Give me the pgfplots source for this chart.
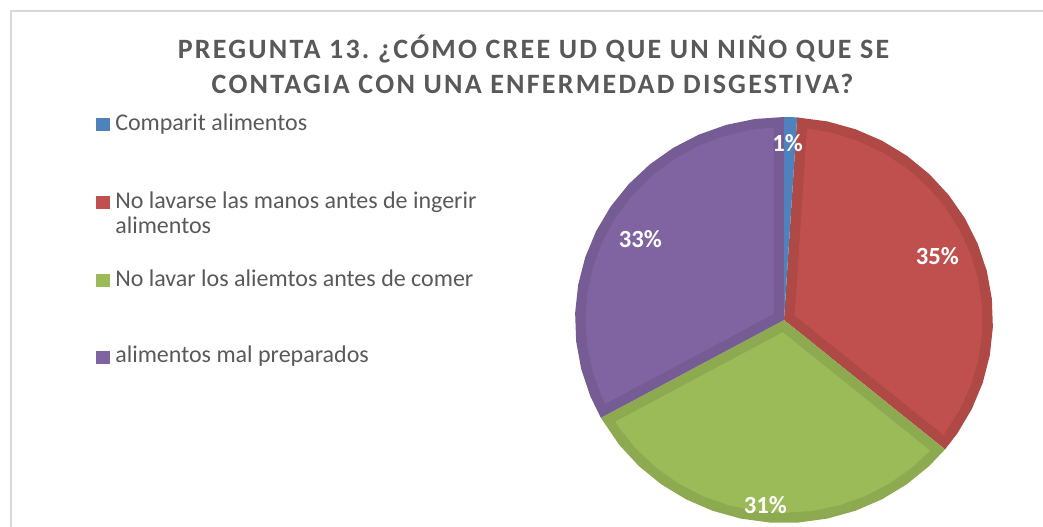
\documentclass[border=0pt]{standalone}
\usepackage{fontspec}
\setmainfont{Carlito}
\usepackage{pgfplots}
\pgfplotsset{compat=1.18}
\definecolor{ctitle}{HTML}{595959}
\definecolor{cframe}{HTML}{D9D9D9}
\definecolor{cblue}{HTML}{4F81BD}
\definecolor{cred}{HTML}{C0504D}
\definecolor{credd}{HTML}{AF4946}
\definecolor{cgreen}{HTML}{9BBB59}
\definecolor{cgreend}{HTML}{8DAA50}
\definecolor{cpurple}{HTML}{8064A2}
\definecolor{cpurpled}{HTML}{765C95}
% Data: Comparit alimentos 1, No lavarse las manos 35, No lavar los aliemtos 31, alimentos mal preparados 33 (percent)
% Wedges start at 90 deg and run clockwise: 90 -> 86.4 -> -39.6 -> -151.2 -> -270
\begin{document}
\begin{tikzpicture}
\useasboundingbox (0,0) rectangle (782.25pt,-395.25pt);
\begin{scope}[x=0.75pt,y=-0.75pt]
% chart frame (top and left edges visible)
\draw[cframe, line width=1.5pt] (10.5,11) -- (10.5,530);
\draw[cframe, line width=1.2pt] (10,11) -- (1043,11);
% title
\node[anchor=base, font=\fontsize{21pt}{24pt}\selectfont\bfseries\addfontfeature{LetterSpace=8}, text=ctitle, inner sep=0pt] at (533.5,58.3) {PREGUNTA 13.\kern-2pt{} ¿CÓMO CREE UD QUE UN NIÑO QUE SE};
\node[anchor=base, font=\fontsize{21pt}{24pt}\selectfont\bfseries\addfontfeature{LetterSpace=8}, text=ctitle, inner sep=0pt] at (532.5,94) {CONTAGIA CON UNA ENFERMEDAD DISGESTIVA?};
% legend
\fill[cblue] (96,118) rectangle (110,131);
\fill[cred] (96,196) rectangle (110,209);
\fill[cgreen] (96,274) rectangle (110,287);
\fill[cpurple] (96,351) rectangle (110,364);
\begin{scope}[every node/.style={anchor=base west, inner sep=0pt, text=ctitle, font=\fontsize{18pt}{21pt}\selectfont}]
\node at (115,131) {Comparit alimentos};
\node at (115,209) {No lavarse las manos antes de ingerir};
\node at (115,234) {alimentos};
\node at (115,287) {No lavar los aliemtos antes de comer};
\node at (115,363) {alimentos mal preparados};
\end{scope}
\end{scope}
% pie
\begin{axis}[at={(588pt,-240pt)}, anchor=center, scale only axis,
  width=313.5pt, height=304.5pt,
  xmin=-1, xmax=1, ymin=-1, ymax=1,
  hide axis, clip=false]
% red slice
\addplot[draw=none, fill=credd, data cs=polar] coordinates {(0,0) (86.4,1) (78,1) (70,1) (62,1) (54,1) (46,1) (38,1) (30,1) (22,1) (14,1) (6,1) (-2,1) (-10,1) (-18,1) (-26,1) (-34,1) (-39.6,1)};
\addplot[draw=none, fill=cred, data cs=polar] coordinates {(23.4,0.056) (83.38,0.95) (76,0.95) (68,0.95) (60,0.95) (52,0.95) (44,0.95) (36,0.95) (28,0.95) (20,0.95) (12,0.95) (4,0.95) (-4,0.95) (-12,0.95) (-20,0.95) (-28,0.95) (-36.58,0.95)};
% green slice
\addplot[draw=none, fill=cgreend, data cs=polar] coordinates {(0,0) (-39.6,1) (-46,1) (-54,1) (-62,1) (-70,1) (-78,1) (-86,1) (-94,1) (-102,1) (-110,1) (-118,1) (-126,1) (-134,1) (-142,1) (-151.2,1)};
\addplot[draw=none, fill=cgreen, data cs=polar] coordinates {(-95.4,0.0605) (-42.62,0.95) (-50,0.95) (-58,0.95) (-66,0.95) (-74,0.95) (-82,0.95) (-90,0.95) (-98,0.95) (-106,0.95) (-114,0.95) (-122,0.95) (-130,0.95) (-138,0.95) (-146,0.95) (-148.18,0.95)};
% purple slice
\addplot[draw=none, fill=cpurpled, data cs=polar] coordinates {(0,0) (90,1) (98,1) (106,1) (114,1) (122,1) (130,1) (138,1) (146,1) (154,1) (162,1) (170,1) (178,1) (186,1) (194,1) (202,1) (208.8,1)};
\addplot[draw=none, fill=cpurple, data cs=polar] coordinates {(149.4,0.0581) (93.02,0.95) (100,0.95) (108,0.95) (116,0.95) (124,0.95) (132,0.95) (140,0.95) (148,0.95) (156,0.95) (164,0.95) (172,0.95) (180,0.95) (188,0.95) (196,0.95) (204,0.95) (205.78,0.95)};
% blue slice
\addplot[draw=none, fill=cblue, data cs=polar] coordinates {(0,0) (90,1) (88.2,1) (86.4,1)};
% data labels
\addplot[draw=none, mark=none, nodes near coords, point meta=explicit symbolic,
  every node near coord/.append style={anchor=center, text=white, inner sep=0pt, font=\fontsize{18.5pt}{20pt}\selectfont\bfseries}]
  coordinates {(0.017,0.872) [1\%] (0.734,0.313) [35\%] (-0.089,-0.911) [31\%] (-0.687,0.399) [33\%]};
\end{axis}
\end{tikzpicture}
\end{document}
